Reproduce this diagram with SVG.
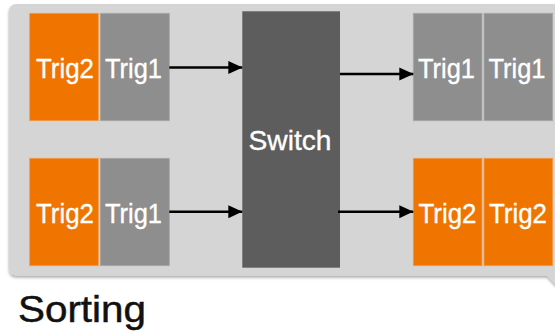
<svg xmlns="http://www.w3.org/2000/svg" width="555" height="332" viewBox="0 0 555 332">
  <defs>
    <filter id="shadow" x="-5%" y="-5%" width="110%" height="115%">
      <feGaussianBlur in="SourceAlpha" stdDeviation="1.5"/>
      <feOffset dx="0" dy="1.5" result="b"/>
      <feFlood flood-color="#000" flood-opacity="0.35"/>
      <feComposite in2="b" operator="in"/>
      <feMerge>
        <feMergeNode/>
        <feMergeNode in="SourceGraphic"/>
      </feMerge>
    </filter>
    <marker id="arrow" markerUnits="userSpaceOnUse" markerWidth="14" markerHeight="14" viewBox="0 0 14 14" refX="14" refY="7" orient="auto">
      <path d="M0,0.5 L14,7 L0,13.5 Z" fill="#000"/>
    </marker>
    <style>
      .orange { fill: #f07400; stroke: #f49a48; stroke-width: 0.8; }
      .gray { fill: #8e8e8e; stroke: #a6a6a6; stroke-width: 0.8; }
      .label { font-family: "Liberation Sans", Arial, sans-serif; font-size: 28.5px; fill: #fff; stroke: #fff; stroke-width: 0.35; text-anchor: middle; }
      .conn { stroke: #000; stroke-width: 2.4; fill: none; marker-end: url(#arrow); }
    </style>
  </defs>

  <rect width="555" height="332" fill="#fff"/>

  <!-- background panel -->
  <path d="M9,12 Q9,4 17,4 H558 V287 L547,275.5 H17 Q9,275.5 9,267.5 Z" fill="#d5d5d5" filter="url(#shadow)"/>

  <g id="in-top">
    <rect class="orange" x="29.7" y="13.3" width="68.6" height="107.4"/>
    <text class="label" x="65" y="78.3" textLength="58" lengthAdjust="spacingAndGlyphs">Trig2</text>
    <rect class="gray" x="100.3" y="13.3" width="69" height="107.4"/>
    <text class="label" x="133.5" y="78.3" textLength="57" lengthAdjust="spacingAndGlyphs">Trig1</text>
  </g>

  <g id="in-bottom">
    <rect class="orange" x="29.7" y="158.3" width="68.6" height="107.4"/>
    <text class="label" x="65" y="223" textLength="58" lengthAdjust="spacingAndGlyphs">Trig2</text>
    <rect class="gray" x="100.3" y="158.3" width="69" height="107.4"/>
    <text class="label" x="133.5" y="223" textLength="57" lengthAdjust="spacingAndGlyphs">Trig1</text>
  </g>

  <g id="switch">
    <rect x="242.3" y="11.3" width="97.7" height="256.4" fill="#5d5d5d"/>
    <text class="label" x="290" y="150" textLength="83" lengthAdjust="spacingAndGlyphs">Switch</text>
  </g>

  <g id="out-top">
    <rect class="gray" x="413.3" y="13.3" width="68.7" height="107.4"/>
    <text class="label" x="446.5" y="78.3" textLength="57" lengthAdjust="spacingAndGlyphs">Trig1</text>
    <rect class="gray" x="484" y="13.3" width="68.7" height="107.4"/>
    <text class="label" x="517" y="78.3" textLength="57" lengthAdjust="spacingAndGlyphs">Trig1</text>
  </g>

  <g id="out-bottom">
    <rect class="orange" x="413.3" y="158.3" width="68.7" height="107.4"/>
    <text class="label" x="447.5" y="223" textLength="58" lengthAdjust="spacingAndGlyphs">Trig2</text>
    <rect class="orange" x="484" y="158.3" width="68.7" height="107.4"/>
    <text class="label" x="518" y="223" textLength="58" lengthAdjust="spacingAndGlyphs">Trig2</text>
  </g>

  <g id="connectors">
    <line class="conn" x1="169.3" y1="67.5" x2="242.3" y2="67.5"/>
    <line class="conn" x1="169.3" y1="211.7" x2="242.3" y2="211.7"/>
    <line class="conn" x1="340" y1="74" x2="413.3" y2="74"/>
    <line class="conn" x1="338" y1="211.7" x2="413.3" y2="211.7"/>
  </g>

  <text x="18" y="321.7" font-family="Liberation Sans, Arial, sans-serif" font-size="36.5" fill="#111" stroke="#111" stroke-width="0.5" textLength="128" lengthAdjust="spacingAndGlyphs">Sorting</text>
</svg>
